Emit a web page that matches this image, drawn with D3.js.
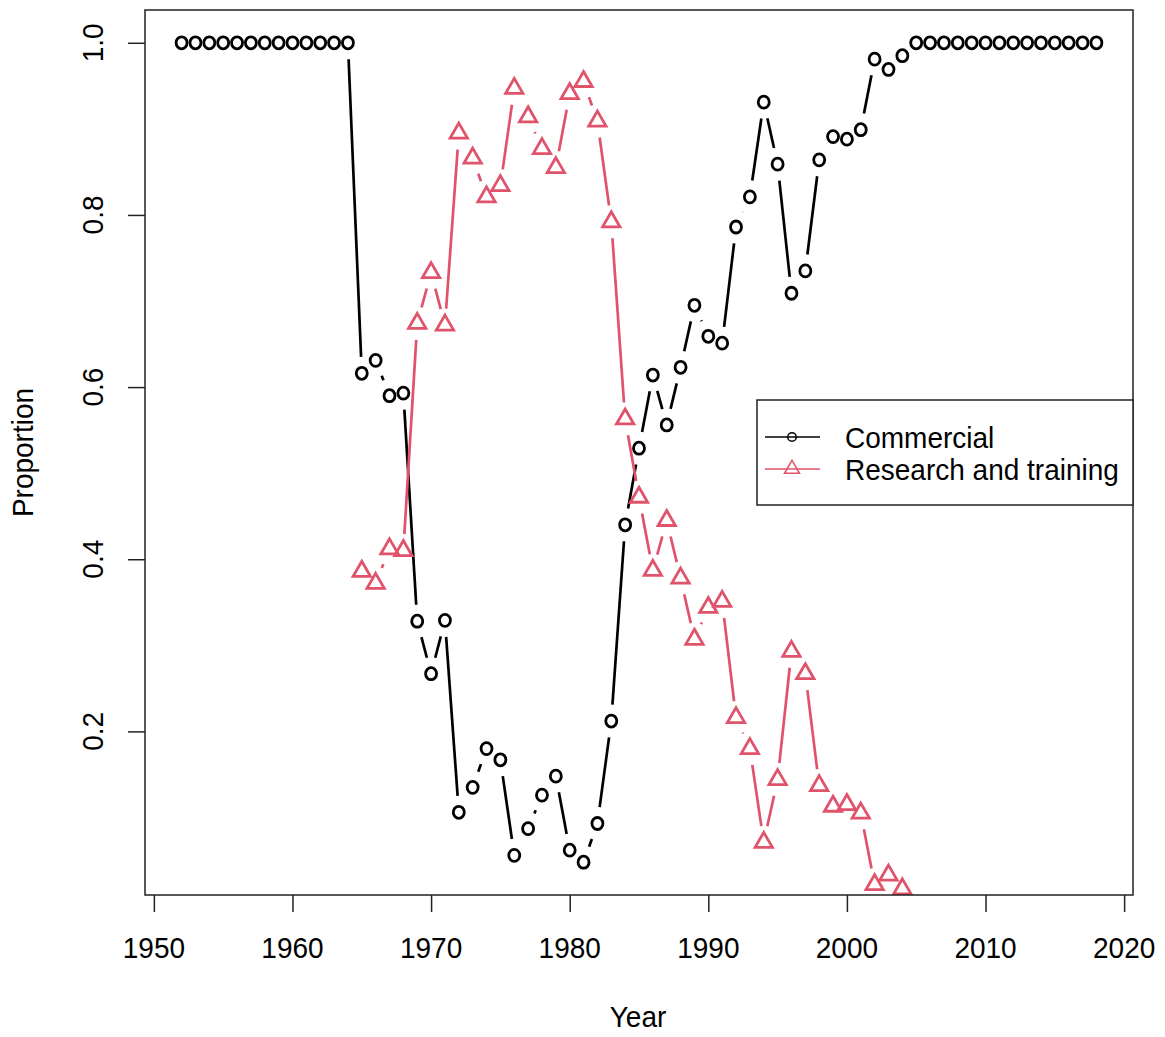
<!DOCTYPE html>
<html>
<head>
<meta charset="utf-8">
<script src="https://cdn.jsdelivr.net/npm/d3@7"></script>
<style>
  html, body { margin: 0; padding: 0; background: #fff; }
  svg { display: block; }
  text { font-family: "Liberation Sans", Arial, sans-serif; fill: #000; }
</style>
</head>
<body>
<svg id="chart" width="1165" height="1037"></svg>
<script>
// Share of vessels by use, per year
const commercialYears = [1952, 1953, 1954, 1955, 1956, 1957, 1958, 1959, 1960, 1961, 1962, 1963, 1964,
  1965, 1966, 1967, 1968, 1969, 1970, 1971, 1972, 1973, 1974, 1975, 1976, 1977, 1978, 1979, 1980,
  1981, 1982, 1983, 1984, 1985, 1986, 1987, 1988, 1989, 1990, 1991, 1992, 1993, 1994, 1995, 1996,
  1997, 1998, 1999, 2000, 2001, 2002, 2003, 2004, 2005, 2006, 2007, 2008, 2009, 2010, 2011, 2012,
  2013, 2014, 2015, 2016, 2017, 2018];
const commercialValues = [1.0, 1.0, 1.0, 1.0, 1.0, 1.0, 1.0, 1.0, 1.0, 1.0, 1.0, 1.0, 1.0,
  0.616, 0.631, 0.590, 0.593, 0.328, 0.267, 0.329, 0.106, 0.135, 0.180, 0.167, 0.056, 0.087, 0.126,
  0.148, 0.062, 0.048, 0.093, 0.212, 0.440, 0.529, 0.614, 0.556, 0.623, 0.695, 0.659, 0.651, 0.786,
  0.821, 0.931, 0.859, 0.709, 0.735, 0.864, 0.891, 0.888, 0.899, 0.981, 0.969, 0.985,
  1.0, 1.0, 1.0, 1.0, 1.0, 1.0, 1.0, 1.0, 1.0, 1.0, 1.0, 1.0, 1.0, 1.0];

const researchYears = [1965, 1966, 1967, 1968, 1969, 1970, 1971, 1972, 1973, 1974, 1975, 1976,
  1977, 1978, 1979, 1980, 1981, 1982, 1983, 1984, 1985, 1986, 1987, 1988, 1989, 1990, 1991, 1992,
  1993, 1994, 1995, 1996, 1997, 1998, 1999, 2000, 2001, 2002, 2003, 2004];
const researchValues = [0.386, 0.372, 0.412, 0.410, 0.674, 0.733, 0.672, 0.895, 0.866, 0.821,
  0.834, 0.947, 0.914, 0.877, 0.855, 0.941, 0.955, 0.909, 0.792, 0.563, 0.472, 0.387, 0.445,
  0.378, 0.307, 0.344, 0.351, 0.216, 0.180, 0.071, 0.144, 0.293, 0.267, 0.137, 0.113, 0.115,
  0.105, 0.022, 0.033, 0.017];

const xTicks = [1950, 1960, 1970, 1980, 1990, 2000, 2010, 2020];
const yTicks = [0.2, 0.4, 0.6, 0.8, 1.0];
const seriesNames = ["Commercial", "Research and training"];

const RED = "#DF536B";
const svg = d3.select("#chart");
const plot = { left: 145, right: 1133, top: 10, bottom: 895 };

// Axis ranges padded by 4% of the data span on each side
const xMin = d3.min(commercialYears), xMax = d3.max(commercialYears);
const xPad = (xMax - xMin) * 0.04;
const yMin = d3.min(commercialValues), yMax = d3.max(commercialValues);
const yPad = (yMax - yMin) * 0.04;

const x = d3.scaleLinear().domain([xMin - xPad, xMax + xPad]).range([plot.left, plot.right]);
const y = d3.scaleLinear().domain([yMin - yPad, yMax + yPad]).range([plot.bottom, plot.top]);

const FONT = 28, STRETCH = 1.06;
function label(g, txt, tx, ty, rot, anchor) {
  return g.append("text")
    .attr("transform", `translate(${tx},${ty}) rotate(${rot || 0}) scale(1,${STRETCH})`)
    .attr("text-anchor", anchor || "middle")
    .style("font-size", FONT + "px")
    .text(txt);
}

svg.append("defs").append("clipPath").attr("id", "plotClip")
  .append("rect")
  .attr("x", plot.left).attr("y", plot.top)
  .attr("width", plot.right - plot.left).attr("height", plot.bottom - plot.top);

// Axes
const xAxis = svg.append("g").attr("transform", `translate(0,${plot.bottom})`)
  .call(d3.axisBottom(x).tickValues(xTicks).tickSize(17).tickFormat(""));
const yAxis = svg.append("g").attr("transform", `translate(${plot.left},0)`)
  .call(d3.axisLeft(y).tickValues(yTicks).tickSize(17).tickFormat(""));
[xAxis, yAxis].forEach(a => {
  a.select(".domain").remove();
  a.selectAll(".tick line").attr("stroke", "#222").attr("stroke-width", 1.5);
});

const labels = svg.append("g");
xTicks.forEach(t => label(labels, String(t), x(t), 958, 0));
yTicks.forEach(t => label(labels, t.toFixed(1), 103, y(t), -90));
label(labels, "Year", 638, 1027, 0);
label(labels, "Proportion", 33, (plot.top + plot.bottom) / 2, -90);

// Series: points joined by segments that stop short of each marker
const GAP = 16.5;
function gappedSegments(pts) {
  const segs = [];
  for (let i = 0; i < pts.length - 1; i++) {
    const [x1, y1] = pts[i], [x2, y2] = pts[i + 1];
    const dx = x2 - x1, dy = y2 - y1, len = Math.hypot(dx, dy);
    if (len <= 2 * GAP) continue;
    const ux = dx / len, uy = dy / len;
    segs.push([x1 + ux * GAP, y1 + uy * GAP, x2 - ux * GAP, y2 - uy * GAP]);
  }
  return segs;
}

const marks = svg.append("g").attr("clip-path", "url(#plotClip)");

function triPath(cx, cy, r) {
  const hw = r * 0.866, hb = r * 0.5;
  return `M${cx},${cy - r}L${cx + hw},${cy + hb}L${cx - hw},${cy + hb}Z`;
}

function drawSeries(years, values, color, shape) {
  const pts = years.map((yr, i) => [x(yr), y(values[i])]);
  marks.append("g").selectAll("line").data(gappedSegments(pts)).join("line")
    .attr("x1", d => d[0]).attr("y1", d => d[1])
    .attr("x2", d => d[2]).attr("y2", d => d[3])
    .attr("stroke", color).attr("stroke-width", 2.7);
  const g = marks.append("g");
  if (shape === "circle") {
    g.selectAll("ellipse").data(pts).join("ellipse")
      .attr("cx", d => d[0]).attr("cy", d => d[1])
      .attr("rx", 5.5).attr("ry", 6)
      .attr("fill", "none").attr("stroke", color).attr("stroke-width", 2.8);
  } else {
    g.selectAll("path").data(pts).join("path")
      .attr("d", d => triPath(d[0], d[1], 10))
      .attr("fill", "none").attr("stroke", color).attr("stroke-width", 2.8)
      .attr("stroke-linejoin", "miter");
  }
}

drawSeries(commercialYears, commercialValues, "#000", "circle");
drawSeries(researchYears, researchValues, RED, "triangle");

// Plot frame
svg.append("rect")
  .attr("x", plot.left).attr("y", plot.top)
  .attr("width", plot.right - plot.left).attr("height", plot.bottom - plot.top)
  .attr("fill", "none").attr("stroke", "#222").attr("stroke-width", 1.5);

// Legend
const legend = svg.append("g");
legend.append("rect")
  .attr("x", 757).attr("y", 400).attr("width", plot.right - 757).attr("height", 105)
  .attr("fill", "#fff").attr("stroke", "#222").attr("stroke-width", 1.5);
const rows = [
  { name: seriesNames[0], color: "#000", shape: "circle", cy: 437 },
  { name: seriesNames[1], color: RED, shape: "triangle", cy: 469 }
];
rows.forEach(r => {
  legend.append("line").attr("x1", 765).attr("x2", 820).attr("y1", r.cy).attr("y2", r.cy)
    .attr("stroke", r.color).attr("stroke-width", 1.6);
  if (r.shape === "circle") {
    legend.append("circle").attr("cx", 792).attr("cy", r.cy).attr("r", 4.3)
      .attr("fill", "none").attr("stroke", r.color).attr("stroke-width", 1.5);
  } else {
    legend.append("path").attr("d", triPath(792, r.cy, 8.7))
      .attr("fill", "none").attr("stroke", r.color).attr("stroke-width", 1.5);
  }
  label(legend, r.name, 845, r.cy + 10.5, 0, "start");
});
</script>
</body>
</html>
